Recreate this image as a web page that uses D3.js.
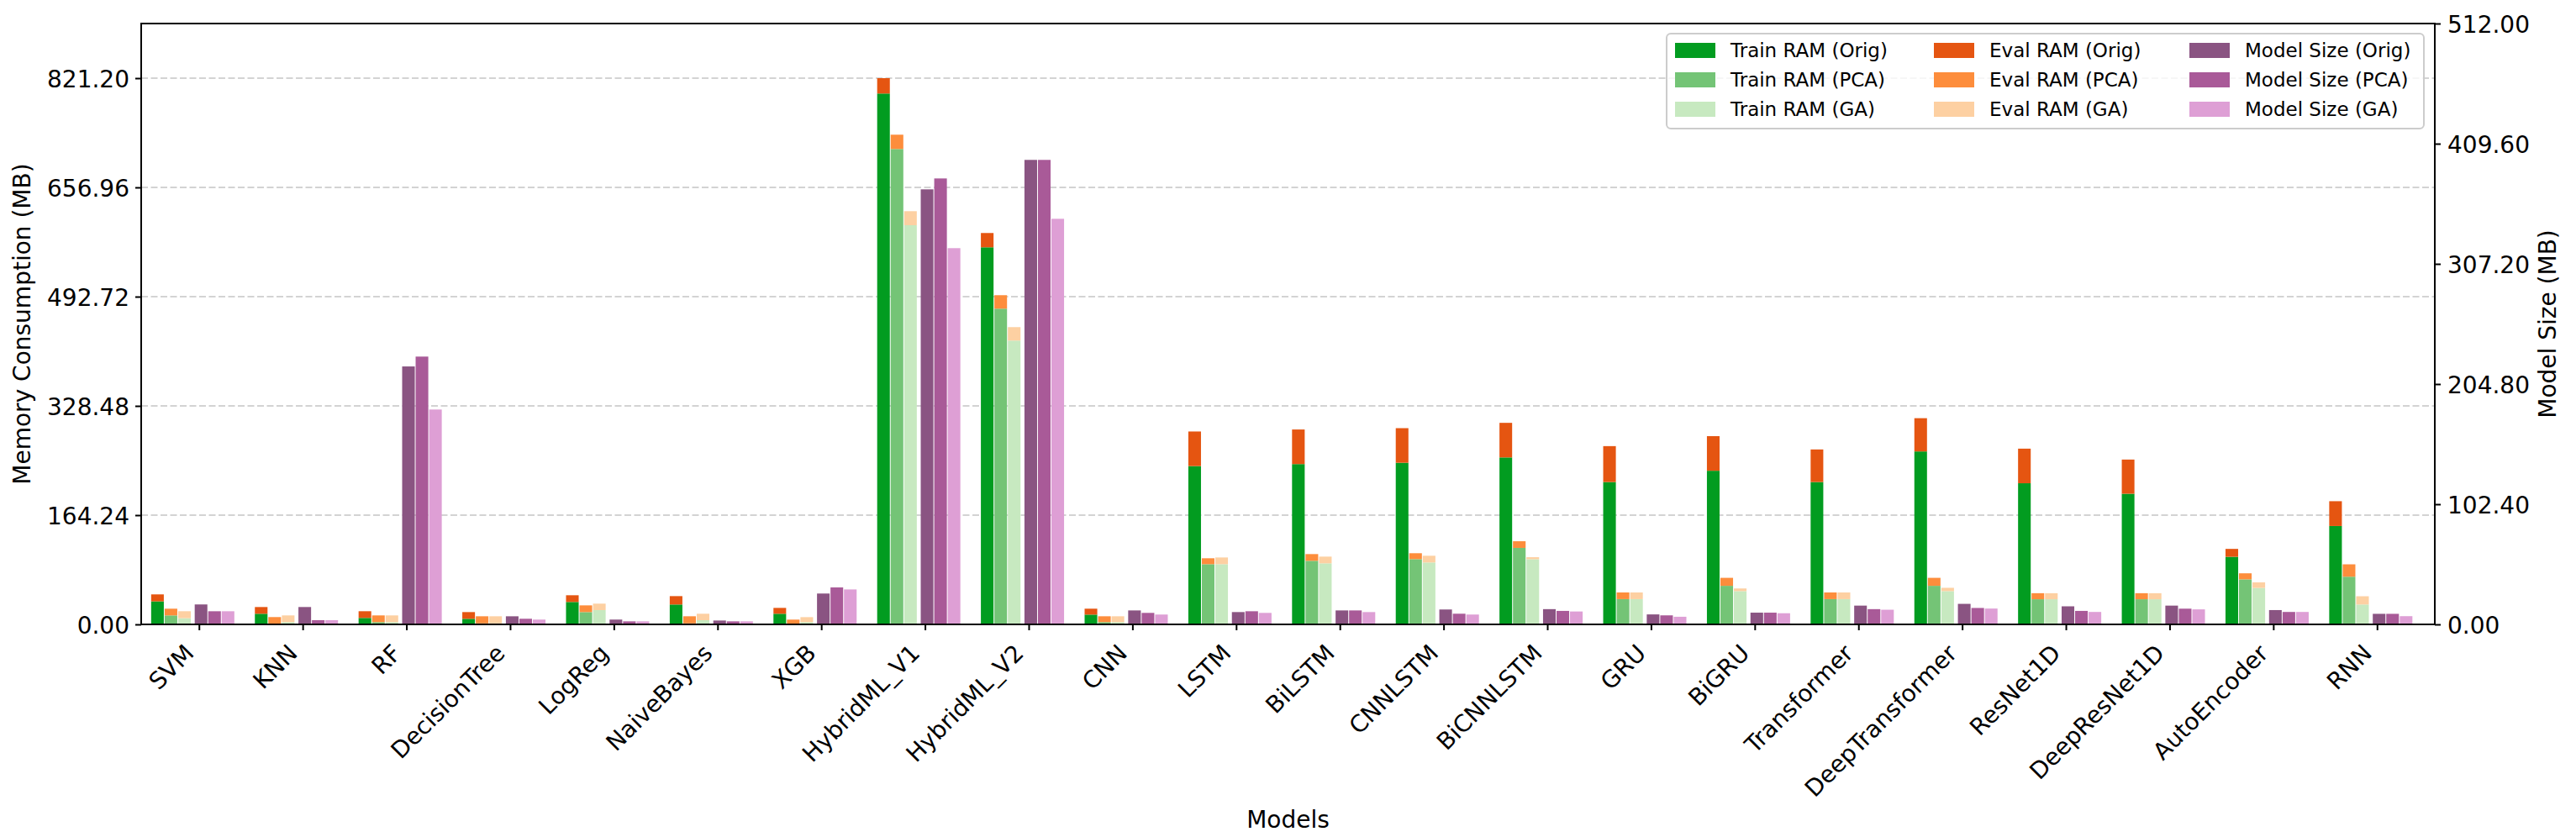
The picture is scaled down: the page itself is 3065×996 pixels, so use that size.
<!DOCTYPE html>
<html><head><meta charset="utf-8">
<script src="https://cdn.jsdelivr.net/npm/d3@7"></script>
<style>body{margin:0;background:#fff}svg{display:block}text{font-family:"DejaVu Sans",sans-serif}</style>
</head><body><svg id="c" width="3065" height="996"></svg>
<script>
const models = ["SVM","KNN","RF","DecisionTree","LogReg","NaiveBayes","XGB","HybridML_V1","HybridML_V2","CNN","LSTM","BiLSTM","CNNLSTM","BiCNNLSTM","GRU","BiGRU","Transformer","DeepTransformer","ResNet1D","DeepResNet1D","AutoEncoder","RNN"];
const trainOrig = [34.6,16.0,9.7,8.4,33.7,29.9,16.0,798.1,566.9,14.7,238,241,243,251,214,231,214,260,212.2,196.4,101.6,147.9];
const evalOrig  = [10.5,10.1,10.1,10.1,10.1,12.6,8.8,23.1,21.5,8.9,52,52,52,52,54,52,49,50,52,51.4,11.9,37.3];
const trainPCA  = [13.5,1.0,3.4,1.5,18.5,1.5,1.0,714.7,474.7,3.4,90.5,95.6,98.1,115,38,58,38,58,37.8,37.8,67.7,71.7];
const evalPCA   = [10.1,10.0,10.1,10.7,10.1,10.7,6.2,21.5,20.2,8.8,8.9,10.1,8.9,10,10,12,10,12,9.1,9.1,9.1,18.6];
const trainGA   = [9.3,3.4,3.4,1.5,21.5,6.3,3.4,600.1,426.7,3.4,90.5,91.8,93.1,98,38,50,38,50,37.8,37.8,54.8,29.9];
const evalGA    = [10.5,10.1,10.1,10.7,9.7,9.7,7.5,21.1,20.2,8.8,10.1,10.1,10.1,3,10,4,10,5,9.1,9.1,8.4,12.4];
const sizeOrig  = [17.0,14.8,219.8,6.9,4.1,3.3,26.3,370.7,395.8,11.9,10.5,11.9,12.7,13,8.5,10,16,17.5,15.4,16,12.2,9.0];
const sizePCA   = [11.2,3.6,228.2,4.8,2.6,2.6,31.5,380.0,395.8,9.8,11.2,11.9,9.1,11.5,7.7,10,13,14,11.5,13.4,10.6,9.0];
const sizeGA    = [11.2,3.6,183.1,4.1,2.6,2.6,29.8,320.6,345.6,8.4,9.8,10.5,8.4,11,6.5,9.5,12.5,13.5,10.6,12.8,10.6,7.0];
const leftTicks  = [0,164.24,328.48,492.72,656.96,821.20];
const rightTicks = [0,102.4,204.8,307.2,409.6,512];
const legendLabels = ["Train RAM (Orig)","Train RAM (PCA)","Train RAM (GA)","Eval RAM (Orig)","Eval RAM (PCA)","Eval RAM (GA)","Model Size (Orig)","Model Size (PCA)","Model Size (GA)"];

const C = {tO:"#029c20",tP:"#74c476",tG:"#c7e9c0",eO:"#e55511",eP:"#fd8d3c",eG:"#fdd0a2",sO:"#8a5482",sP:"#a95a98",sG:"#de9fd5"};
const L=168,R=2897,T=28,B=743;
const svg=d3.select("#c");
svg.append("rect").attr("width",3065).attr("height",996).attr("fill","#fff");
const x=d3.scaleLinear().domain([-0.557,models.length-1+0.557]).range([L,R]);
const yL=d3.scaleLinear().domain([0,821.2*1.1]).range([B,T]);
const yR=d3.scaleLinear().domain([0,512]).range([B,T]);
const bw=0.122;
// grid
svg.append("g").selectAll("line").data(leftTicks.slice(1)).join("line")
 .attr("x1",L).attr("x2",R).attr("y1",d=>yL(d)).attr("y2",d=>yL(d))
 .attr("stroke","#d3d3d3").attr("stroke-width",2).attr("stroke-dasharray","8,3.5");
// RAM bars
const ramSets=[[trainOrig,evalOrig,C.tO,C.eO,-0.40],[trainPCA,evalPCA,C.tP,C.eP,-0.27],[trainGA,evalGA,C.tG,C.eG,-0.14]];
ramSets.forEach(([tr,ev,ct,ce,off])=>{
  const g=svg.append("g");
  g.selectAll(".t").data(models).join("rect")
   .attr("x",(d,i)=>x(i+off-bw/2)).attr("width",x(bw)-x(0))
   .attr("y",(d,i)=>yL(tr[i])).attr("height",(d,i)=>yL(0)-yL(tr[i])).attr("fill",ct);
  g.selectAll(".e").data(models).join("rect")
   .attr("x",(d,i)=>x(i+off-bw/2)).attr("width",x(bw)-x(0))
   .attr("y",(d,i)=>yL(tr[i]+ev[i])).attr("height",(d,i)=>yL(tr[i])-yL(tr[i]+ev[i])).attr("fill",ce);
});
const sizeSets=[[sizeOrig,C.sO,0.02],[sizePCA,C.sP,0.15],[sizeGA,C.sG,0.28]];
sizeSets.forEach(([s,c,off])=>{
  svg.append("g").selectAll("rect").data(models).join("rect")
   .attr("x",(d,i)=>x(i+off-bw/2)).attr("width",x(bw)-x(0))
   .attr("y",(d,i)=>yR(s[i])).attr("height",(d,i)=>yR(0)-yR(s[i])).attr("fill",c);
});
// axes
const fmt=d3.format(".2f");
function style(g){g.select(".domain").remove();g.selectAll(".tick line").attr("stroke","#000").attr("stroke-width",2);
 g.selectAll(".tick text").attr("font-size",28).attr("fill","#000").attr("font-family","DejaVu Sans");}
const gl=svg.append("g").attr("transform",`translate(${L},0)`).call(d3.axisLeft(yL).tickValues(leftTicks).tickFormat(fmt).tickSize(7).tickPadding(7));
style(gl); gl.selectAll(".tick text").attr("dy","0.36em");
const gr=svg.append("g").attr("transform",`translate(${R},0)`).call(d3.axisRight(yR).tickValues(rightTicks).tickFormat(fmt).tickSize(7).tickPadding(8));
style(gr); gr.selectAll(".tick text").attr("dy","0.36em");
const gb=svg.append("g").attr("transform",`translate(0,${B})`).call(d3.axisBottom(x).tickValues(d3.range(models.length)).tickFormat(i=>models[i]).tickSize(7));
style(gb);
gb.selectAll(".tick text").attr("text-anchor","end").attr("dy",null).attr("y",null)
  .attr("transform","translate(-5,36) rotate(-45)");
// spines
svg.append("rect").attr("x",L).attr("y",T).attr("width",R-L).attr("height",B-T).attr("fill","none").attr("stroke","#000").attr("stroke-width",2);
// labels
svg.append("text").attr("x",(L+R)/2).attr("y",985).attr("text-anchor","middle").attr("font-size",28).text("Models");
svg.append("text").attr("transform",`translate(36,${(T+B)/2}) rotate(-90)`).attr("text-anchor","middle").attr("font-size",28).text("Memory Consumption (MB)");
svg.append("text").attr("transform",`translate(3041,${(T+B)/2}) rotate(-90)`).attr("text-anchor","middle").attr("font-size",28).text("Model Size (MB)");
// legend
const lg=svg.append("g");
lg.append("rect").attr("x",1983).attr("y",40).attr("width",2884-1983).attr("height",113).attr("rx",5)
 .attr("fill","#fff").attr("fill-opacity",0.8).attr("stroke","#cccccc").attr("stroke-width",2);
const legColors=[C.tO,C.tP,C.tG,C.eO,C.eP,C.eG,C.sO,C.sP,C.sG];
const colX=[1993,2301,2605];
legendLabels.forEach((lab,k)=>{
  const col=Math.floor(k/3),row=k%3;const cy=60+row*35;
  lg.append("rect").attr("x",colX[col]).attr("y",cy-9).attr("width",48).attr("height",18).attr("fill",legColors[k]);
  lg.append("text").attr("x",colX[col]+66).attr("y",cy+8).attr("font-size",23).text(lab);
});
</script></body></html>
